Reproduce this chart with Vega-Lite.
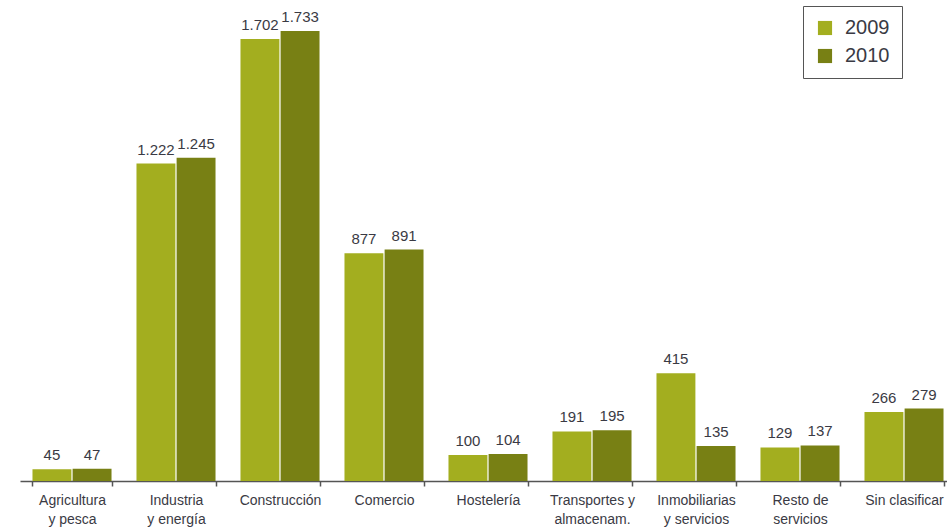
{
  "$schema": "https://vega.github.io/schema/vega-lite/v6.json",
  "autosize": {"type": "none"},
  "width": 936,
  "height": 481,
  "padding": {"left": 20, "top": 0, "right": 0, "bottom": 50},
  "background": "white",
  "config": {
    "view": {"stroke": null},
    "locale": {"number": {"decimal": ",", "thousands": ".", "grouping": [3], "currency": ["", " €"]}},
    "font": "Liberation Sans"
  },
  "data": {
    "values": [
      {"sector": "Agricultura|y pesca", "year": "2009", "value": 45},
      {"sector": "Agricultura|y pesca", "year": "2010", "value": 47},
      {"sector": "Industria|y energía", "year": "2009", "value": 1222},
      {"sector": "Industria|y energía", "year": "2010", "value": 1245},
      {"sector": "Construcción", "year": "2009", "value": 1702},
      {"sector": "Construcción", "year": "2010", "value": 1733},
      {"sector": "Comercio", "year": "2009", "value": 877},
      {"sector": "Comercio", "year": "2010", "value": 891},
      {"sector": "Hostelería", "year": "2009", "value": 100},
      {"sector": "Hostelería", "year": "2010", "value": 104},
      {"sector": "Transportes y|almacenam.", "year": "2009", "value": 191},
      {"sector": "Transportes y|almacenam.", "year": "2010", "value": 195},
      {"sector": "Inmobiliarias|y servicios", "year": "2009", "value": 415},
      {"sector": "Inmobiliarias|y servicios", "year": "2010", "value": 135},
      {"sector": "Resto de|servicios", "year": "2009", "value": 129},
      {"sector": "Resto de|servicios", "year": "2010", "value": 137},
      {"sector": "Sin clasificar", "year": "2009", "value": 266},
      {"sector": "Sin clasificar", "year": "2010", "value": 279}
    ]
  },
  "encoding": {
    "x": {
      "field": "sector", "type": "nominal", "sort": null, "title": null,
      "scale": {"paddingInner": 0.24, "paddingOuter": 0.12},
      "axis": {
        "labelAngle": 0, "labelExpr": "split(datum.label, '|')",
        "labelFontSize": 14, "labelColor": "#3a3a44", "labelPadding": 7,
        "labelLineHeight": 19, "labelFont": "Liberation Sans",
        "domainColor": "#555555", "domainWidth": 1.5,
        "tickColor": "#555555", "tickWidth": 1.5, "tickSize": 5, "tickBand": "extent"
      }
    },
    "xOffset": {"field": "year", "type": "nominal", "scale": {"paddingInner": 0.03}},
    "y": {
      "field": "value", "type": "quantitative",
      "scale": {"domain": [0, 1852], "nice": false},
      "axis": null
    }
  },
  "layer": [
    {
      "mark": {"type": "bar"},
      "encoding": {
        "color": {
          "field": "year", "type": "nominal",
          "scale": {"domain": ["2009", "2010"], "range": ["#a3ae1f", "#788014"]},
          "legend": {
            "title": null, "orient": "none", "legendX": 783, "legendY": 6,
            "strokeColor": "#555555", "padding": 12,
            "labelFontSize": 20, "labelColor": "#3a3a44", "labelFont": "Liberation Sans",
            "symbolType": "square", "symbolSize": 200, "symbolStrokeWidth": 0,
            "rowPadding": 8, "labelOffset": 10
          }
        }
      }
    },
    {
      "mark": {"type": "text", "baseline": "bottom", "dy": -6, "fontSize": 15, "color": "#3a3a44", "font": "Liberation Sans"},
      "encoding": {
        "text": {"field": "value", "type": "quantitative", "format": ",d"}
      }
    }
  ]
}
